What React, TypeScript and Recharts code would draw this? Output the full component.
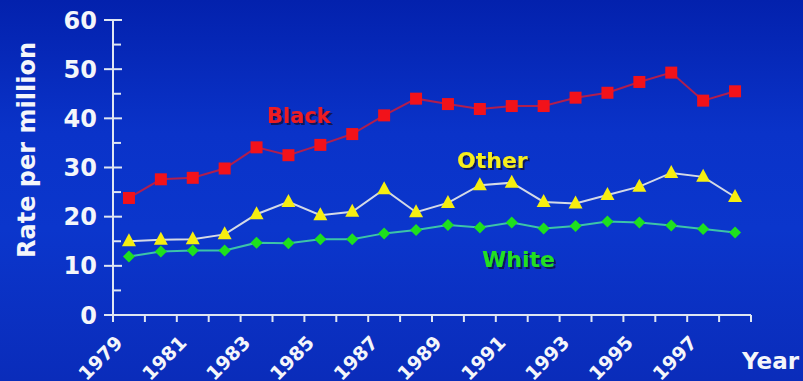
import React from "react";
import { LineChart, Line, XAxis, YAxis } from "recharts";

// Incidence rate per million, by race, 1979–1998
const years = [
  "1979", "1980", "1981", "1982", "1983", "1984", "1985", "1986", "1987", "1988",
  "1989", "1990", "1991", "1992", "1993", "1994", "1995", "1996", "1997", "1998",
];
const blackRates = [
  23.8, 27.6, 27.9, 29.8, 34.1, 32.5, 34.6, 36.8, 40.6, 44.0,
  42.9, 41.9, 42.5, 42.5, 44.2, 45.2, 47.4, 49.3, 43.6, 45.5,
];
const otherRates = [
  15.0, 15.3, 15.4, 16.4, 20.5, 23.0, 20.3, 21.0, 25.6, 20.9,
  22.8, 26.4, 26.9, 23.0, 22.7, 24.4, 26.1, 28.9, 28.1, 24.0,
];
const whiteRates = [
  11.9, 12.9, 13.1, 13.1, 14.7, 14.6, 15.4, 15.4, 16.6, 17.3,
  18.3, 17.8, 18.8, 17.6, 18.1, 19.0, 18.8, 18.2, 17.5, 16.8,
];
const yTicks = [0, 5, 10, 15, 20, 25, 30, 35, 40, 45, 50, 55, 60];

const data = years.map((year, i) => ({
  year,
  black: blackRates[i],
  other: otherRates[i],
  white: whiteRates[i],
}));

const W = 803;
const H = 381;
const MARGIN = { top: 20, right: 52, left: 0, bottom: 0 };
const Y_AXIS_W = 113;
const X_AXIS_H = 66;
const PLOT_W = W - MARGIN.left - MARGIN.right - Y_AXIS_W;
const BAND = PLOT_W / years.length;

const FONT = "'DejaVu Sans', 'Liberation Sans', Arial, sans-serif";
const AXIS_COLOR = "#dfe6f2";
const TEXT_COLOR = "#f4f6fa";

const YTick = (props: any) => {
  const { x, y, payload } = props;
  const major = payload.value % 10 === 0;
  return (
    <g>
      {major ? (
        <line x1={x - 9} x2={x + 9} y1={y} y2={y} stroke={AXIS_COLOR} strokeWidth={2} />
      ) : (
        <line x1={x} x2={x + 8} y1={y} y2={y} stroke={AXIS_COLOR} strokeWidth={2} />
      )}
      {major && (
        <text
          x={x - 16}
          y={y}
          dy="0.36em"
          textAnchor="end"
          fill={TEXT_COLOR}
          fontFamily={FONT}
          fontWeight="bold"
          fontSize={24}
        >
          {payload.value}
        </text>
      )}
    </g>
  );
};

const XTick = (props: any) => {
  const { x, y, payload, index } = props;
  const half = BAND / 2;
  const last = index === years.length - 1;
  const px = x - 5;
  const py = y + 29;
  return (
    <g>
      <line x1={x - half} x2={x - half} y1={y} y2={y + 7} stroke={AXIS_COLOR} strokeWidth={2} />
      {last && (
        <line x1={x + half} x2={x + half} y1={y} y2={y + 7} stroke={AXIS_COLOR} strokeWidth={2} />
      )}
      {index % 2 === 0 && (
        <text
          x={px}
          y={py}
          textAnchor="end"
          transform={`rotate(-45 ${px} ${py})`}
          fill={TEXT_COLOR}
          fontFamily={FONT}
          fontWeight="bold"
          fontSize={19}
        >
          {payload.value}
        </text>
      )}
    </g>
  );
};

const SquareDot = (props: any) => {
  const { cx, cy } = props;
  if (cx == null || cy == null) return null;
  return <rect x={cx - 6} y={cy - 6} width={12} height={12} fill="#f2121a" />;
};

const TriangleDot = (props: any) => {
  const { cx, cy } = props;
  if (cx == null || cy == null) return null;
  return (
    <polygon
      points={`${cx},${cy - 8} ${cx + 7},${cy + 5} ${cx - 7},${cy + 5}`}
      fill="#f6ee10"
    />
  );
};

const DiamondDot = (props: any) => {
  const { cx, cy } = props;
  if (cx == null || cy == null) return null;
  return (
    <polygon
      points={`${cx},${cy - 6} ${cx + 6},${cy} ${cx},${cy + 6} ${cx - 6},${cy}`}
      fill="#1ee01e"
    />
  );
};

const SeriesLabel = ({ x, y, text, color, size }: any) => (
  <text
    x={x}
    y={y}
    fill={color}
    fontFamily={FONT}
    fontWeight="bold"
    fontSize={size}
    filter="url(#labelShadow)"
  >
    {text}
  </text>
);

export default function App() {
  return (
    <div
      style={{
        position: "absolute",
        left: 0,
        top: 0,
        width: W,
        height: H,
        background:
          "linear-gradient(180deg, #0321ad 0%, #0a33c9 35%, #0b36cc 60%, #0a2cba 100%)",
        overflow: "hidden",
      }}
    >
      <LineChart width={W} height={H} data={data} margin={MARGIN}>
        <XAxis
          dataKey="year"
          scale="band"
          interval={0}
          height={X_AXIS_H}
          tickLine={false}
          tickSize={0}
          tickMargin={0}
          axisLine={{ stroke: AXIS_COLOR, strokeWidth: 2 }}
          tick={<XTick />}
        />
        <YAxis
          type="number"
          domain={[0, 60]}
          ticks={yTicks}
          interval={0}
          width={Y_AXIS_W}
          tickLine={false}
          tickSize={0}
          tickMargin={0}
          axisLine={{ stroke: AXIS_COLOR, strokeWidth: 2 }}
          tick={<YTick />}
        />
        <Line
          dataKey="white"
          stroke="#3cc4a8"
          strokeWidth={2}
          dot={<DiamondDot />}
          isAnimationActive={false}
        />
        <Line
          dataKey="other"
          stroke="#d4dae6"
          strokeWidth={2}
          dot={<TriangleDot />}
          isAnimationActive={false}
        />
        <Line
          dataKey="black"
          stroke="#b01e4e"
          strokeWidth={2}
          dot={<SquareDot />}
          isAnimationActive={false}
        />
      </LineChart>
      <svg
        width={W}
        height={H}
        style={{ position: "absolute", left: 0, top: 0, pointerEvents: "none" }}
      >
        <defs>
          <filter id="labelShadow" x="-10%" y="-20%" width="130%" height="150%">
            <feDropShadow dx={2} dy={2} stdDeviation={0.6} floodColor="#0a0f3c" floodOpacity={0.8} />
          </filter>
        </defs>
        <text
          x={35}
          y={150}
          textAnchor="middle"
          transform="rotate(-90 35 150)"
          fill={TEXT_COLOR}
          fontFamily={FONT}
          fontWeight="bold"
          fontSize={24}
        >
          Rate per million
        </text>
        <text
          x={742}
          y={369}
          fill={TEXT_COLOR}
          fontFamily={FONT}
          fontWeight="bold"
          fontSize={23}
        >
          Year
        </text>
        <SeriesLabel x={267} y={123} text="Black" color="#ee1c22" size={21} />
        <SeriesLabel x={457} y={168} text="Other" color="#f6ee1a" size={22} />
        <SeriesLabel x={482} y={267} text="White" color="#22e022" size={22} />
      </svg>
    </div>
  );
}
